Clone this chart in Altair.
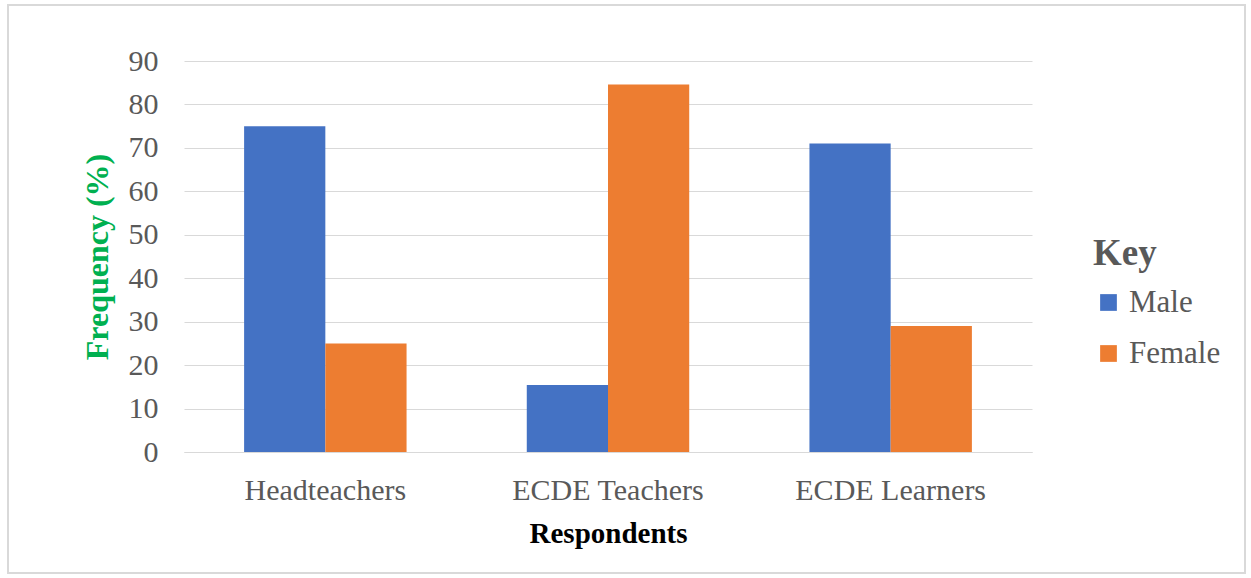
import altair as alt
import pandas as pd

categories = ["Headteachers", "ECDE Teachers", "ECDE Learners"]
genders = ["Male", "Female"]
male = [75.0, 15.4, 71.0]
female = [25.0, 84.6, 29.0]
y_ticks = [0, 10, 20, 30, 40, 50, 60, 70, 80, 90]

rows = []
for i, c in enumerate(categories):
    rows.append({"Respondent": c, "Gender": "Male", "Value": male[i]})
    rows.append({"Respondent": c, "Gender": "Female", "Value": female[i]})
df = pd.DataFrame(rows)

FONT = "Liberation Serif"

bars = alt.Chart(df).mark_bar().encode(
    x=alt.X("Respondent:N", sort=categories, title="Respondents",
            scale=alt.Scale(paddingInner=0, paddingOuter=0),
            axis=alt.Axis(labelAngle=0, ticks=False, domainColor="#d9d9d9",
                          labelPadding=23, titlePadding=14, grid=False,
                          labelLimit=0)),
    xOffset=alt.XOffset("Gender:N", sort=genders,
                        scale=alt.Scale(paddingInner=0, paddingOuter=0.74)),
    y=alt.Y("Value:Q", title="Frequency (%)",
            scale=alt.Scale(domain=[0, 90], nice=False),
            axis=alt.Axis(values=y_ticks, domain=False, ticks=False,
                          gridColor="#d9d9d9", labelPadding=26,
                          titlePadding=14, titleColor="#00B050",
                          titleFontSize=32)),
    color=alt.Color("Gender:N", sort=genders, title="Key",
                    scale=alt.Scale(domain=genders, range=["#4472C4", "#ED7D31"]),
                    legend=alt.Legend(orient="none", legendX=909, legendY=175,
                                      symbolType="square", symbolSize=280,
                                      symbolStrokeWidth=0, rowPadding=19,
                                      titlePadding=14, labelOffset=5,
                                      labelLimit=0)),
)

frame = alt.Chart(alt.Data(values=[{}])).mark_rect(
    fill=None, stroke="#d9d9d9", strokeWidth=2
).encode(
    x=alt.value(-176), x2=alt.value(1061), y=alt.value(-56), y2=alt.value(512)
)

chart = alt.layer(bars, frame).properties(
    width=848, height=391,
    autosize=alt.AutoSizeParams(type="none"),
    padding={"left": 184, "top": 61, "right": 219, "bottom": 126},
).configure_view(stroke=None).configure_axis(
    labelFont=FONT, titleFont=FONT, labelFontSize=30, labelColor="#595959",
    titleFontSize=29, titleFontWeight="bold", titleColor="#000000",
).configure_legend(
    labelFont=FONT, titleFont=FONT, labelFontSize=31, labelColor="#595959",
    titleFontSize=37, titleFontWeight="bold", titleColor="#595959",
)

chart.save("out.html", embed_options={"renderer": "svg", "actions": False})
